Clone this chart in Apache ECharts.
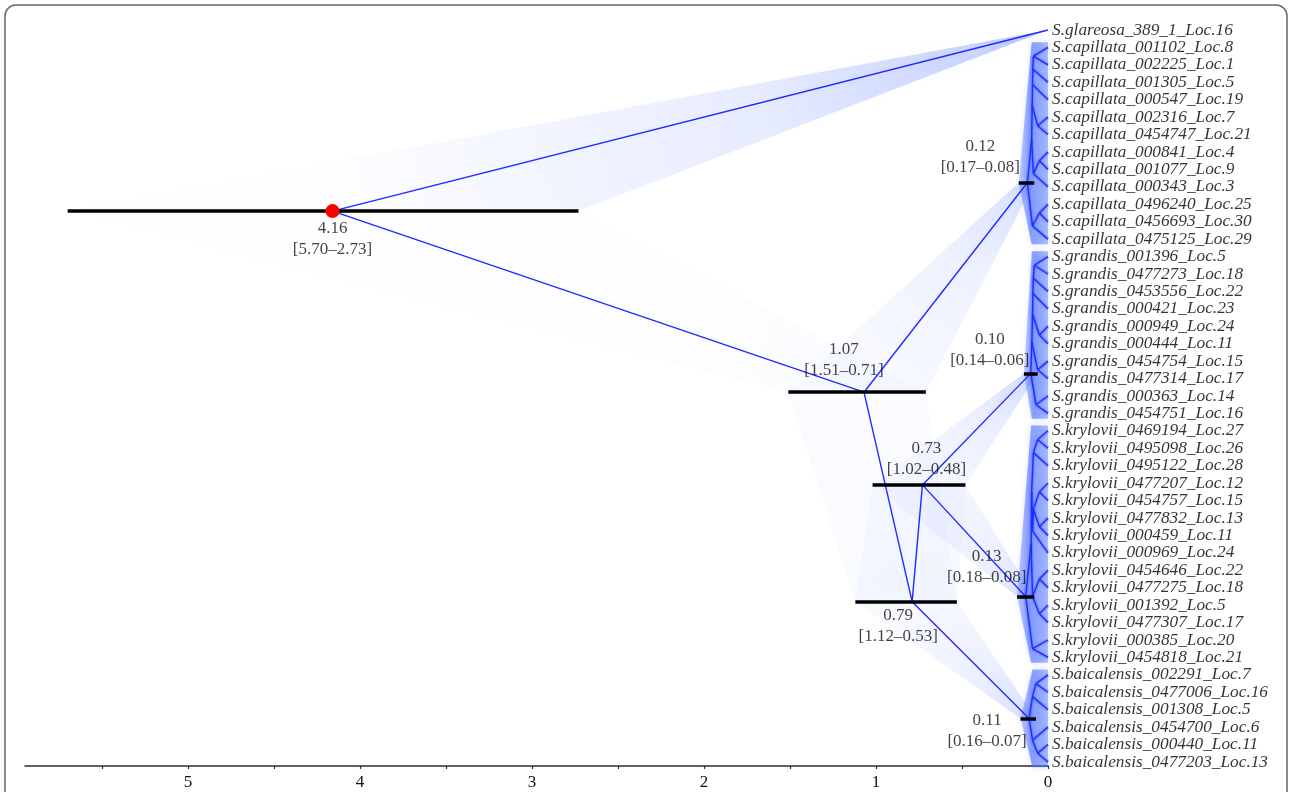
<!DOCTYPE html>
<html>
<head>
<meta charset="utf-8">
<script src="https://cdn.jsdelivr.net/npm/echarts@6/dist/echarts.min.js"></script>
<style>
html,body{margin:0;padding:0;background:#ffffff;}
#chart{width:1290px;height:792px;}
</style>
</head>
<body>
<div id="chart"></div>
<script>
// Tip labels, top to bottom
const tipNames = [
  'S.glareosa_389_1_Loc.16',
  'S.capillata_001102_Loc.8', 'S.capillata_002225_Loc.1', 'S.capillata_001305_Loc.5',
  'S.capillata_000547_Loc.19', 'S.capillata_002316_Loc.7', 'S.capillata_0454747_Loc.21',
  'S.capillata_000841_Loc.4', 'S.capillata_001077_Loc.9', 'S.capillata_000343_Loc.3',
  'S.capillata_0496240_Loc.25', 'S.capillata_0456693_Loc.30', 'S.capillata_0475125_Loc.29',
  'S.grandis_001396_Loc.5', 'S.grandis_0477273_Loc.18', 'S.grandis_0453556_Loc.22',
  'S.grandis_000421_Loc.23', 'S.grandis_000949_Loc.24', 'S.grandis_000444_Loc.11',
  'S.grandis_0454754_Loc.15', 'S.grandis_0477314_Loc.17', 'S.grandis_000363_Loc.14',
  'S.grandis_0454751_Loc.16',
  'S.krylovii_0469194_Loc.27', 'S.krylovii_0495098_Loc.26', 'S.krylovii_0495122_Loc.28',
  'S.krylovii_0477207_Loc.12', 'S.krylovii_0454757_Loc.15', 'S.krylovii_0477832_Loc.13',
  'S.krylovii_000459_Loc.11', 'S.krylovii_000969_Loc.24', 'S.krylovii_0454646_Loc.22',
  'S.krylovii_0477275_Loc.18', 'S.krylovii_001392_Loc.5', 'S.krylovii_0477307_Loc.17',
  'S.krylovii_000385_Loc.20', 'S.krylovii_0454818_Loc.21',
  'S.baicalensis_002291_Loc.7', 'S.baicalensis_0477006_Loc.16', 'S.baicalensis_001308_Loc.5',
  'S.baicalensis_0454700_Loc.6', 'S.baicalensis_000440_Loc.11', 'S.baicalensis_0477203_Loc.13'
];

// Clade subtrees: [age (Ma), left, right]; numbers at the leaves are tip indices
const capillata = [0.12,
  [0.095, [0.092, [0.09, [0.088, [0.085, 1, 2], 3], 4], [0.06, 5, 6]], [0.085, [0.05, 7, 8], 9]],
  [0.09, [0.05, 10, 11], 12]];
const grandis = [0.10,
  [0.094, [0.09, [0.088, [0.085, [0.08, 13, 14], 15], 16], [0.05, 17, 18]], [0.06, 19, 20]],
  [0.07, 21, 22]];
const krylovii = [0.13,
  [0.098, [0.095, [0.085, [0.06, 23, 24], 25], [0.09, [0.085, [0.05, 26, 27], [0.05, 28, 29]], 30]],
    [0.09, [0.05, 31, 32], [0.05, 33, 34]]],
  [0.09, 35, 36]];
const baicalensis = [0.11,
  [0.09, [0.07, 37, 38], 39],
  [0.09, 40, [0.06, 41, 42]]];

// Backbone of the species tree
const speciesTree = [4.16, 0, [1.07, capillata, [0.79, [0.73, grandis, krylovii], baicalensis]]];

// Dated nodes: mean age and 95% HPD interval
const nodeAge   = [4.16, 1.07, 0.79, 0.73, 0.12, 0.10, 0.13, 0.11];
const hpdUpper  = [5.70, 1.51, 1.12, 1.02, 0.17, 0.14, 0.18, 0.16];
const hpdLower  = [2.73, 0.71, 0.53, 0.48, 0.08, 0.06, 0.08, 0.07];

// Time axis (Ma)
const axisTickValues  = [0, 0.5, 1, 1.5, 2, 2.5, 3, 3.5, 4, 4.5, 5, 5.5];
const axisLabelValues = [0, 1, 2, 3, 4, 5];

// Label placement for the dated nodes, [dx, dy] in pixels, same order as nodeAge
const nodeLabelOffset = [[0, 28], [-20, -32], [-14, 24], [4, -26], [-47, -26], [-41, -23], [-39, -29], [-42, 13]];

// ---- layout: y of an internal node is the mean of its two children ----
const backboneEdges = [];
const cladeEdges = [];
const datedNodes = [];
const clades = [];
const cladeRoots = [capillata, grandis, krylovii, baicalensis];

function build(t, inClade) {
  if (typeof t === 'number') return { age: 0, y: t, lo: 0, hi: 0, tips: [t] };
  const k = nodeAge.indexOf(t[0]);
  const dated = k >= 0 && !inClade;
  const isCladeRoot = cladeRoots.includes(t);
  const childInClade = inClade || isCladeRoot;
  const a = build(t[1], childInClade);
  const b = build(t[2], childInClade);
  const n = {
    age: t[0], y: (a.y + b.y) / 2,
    lo: dated ? hpdLower[k] : t[0], hi: dated ? hpdUpper[k] : t[0],
    tips: a.tips.concat(b.tips), k: k, kids: [a, b]
  };
  if (dated) datedNodes.push(n);
  if (isCladeRoot) clades.push(n);
  [a, b].forEach(c => (childInClade ? cladeEdges : backboneEdges).push([n, c]));
  return n;
}
const root = build(speciesTree, false);

// Haze polygons spanning the HPD range of both ends of every backbone edge
const BLUE = [70, 105, 255];
function rgba(a) { return 'rgba(' + BLUE[0] + ',' + BLUE[1] + ',' + BLUE[2] + ',' + a.toFixed(3) + ')'; }
const hazeShapes = backboneEdges.map(([p, c]) => ({
  pts: [[p.hi, p.y], [p.lo, p.y], [c.lo, c.y], [c.hi, c.y]],
  from: [p.age, p.y], to: [c.age, c.y],
  spanFrom: p.hi - p.lo, spanTo: c.hi - c.lo
}));
// Dense blue column of each clade
const cladeShapes = clades.map(n => {
  const first = Math.min(...n.tips), last = Math.max(...n.tips);
  const spine = Math.max(n.kids[0].age, n.kids[1].age);
  return {
    pts: [[n.hi, n.y], [spine, first - 0.3], [0, first - 0.3], [0, last + 0.3], [spine, last + 0.3]],
    from: [n.hi, n.y], to: [0, n.y]
  };
});

const chart = echarts.init(document.getElementById('chart'), null, { renderer: 'canvas' });

// Fewer pixels across an HPD band means a denser cloud of trees
function densityAlpha(spanPx) {
  return Math.min(0.4, 3.6 / Math.max(spanPx, 9));
}

const option = {
  animation: false,
  backgroundColor: '#ffffff',
  grid: { left: 25, right: 242, top: 23, bottom: 26 },
  xAxis: {
    type: 'value', inverse: true, min: 0, max: 5.948, position: 'bottom',
    axisLine: { show: true, onZero: false, lineStyle: { color: '#2b2b2b', width: 1.6 } },
    axisTick: { show: true, length: 3, lineStyle: { color: '#2b2b2b', width: 1.2 }, customValues: axisTickValues },
    axisLabel: {
      customValues: axisLabelValues, margin: 8,
      fontFamily: 'Liberation Serif', fontSize: 17, color: '#111111',
      formatter: v => String(v)
    },
    splitLine: { show: false }
  },
  yAxis: { type: 'value', inverse: true, min: -0.4, max: 42.23, show: false },
  graphic: [{
    type: 'rect', z: 100, silent: true,
    shape: { x: 5, y: 5, width: 1282, height: 840, r: 11 },
    style: { fill: 'none', stroke: '#666666', lineWidth: 1.5 }
  }],
  series: [
    {
      type: 'custom', name: 'haze', z: 1, silent: true,
      data: hazeShapes.map((s, i) => [i]),
      renderItem: (params, api) => {
        const s = hazeShapes[params.dataIndex];
        const pts = s.pts.map(p => api.coord(p));
        const f = api.coord(s.from), t = api.coord(s.to);
        const w0 = Math.abs(api.coord([s.spanFrom, 0])[0] - api.coord([0, 0])[0]);
        const w1 = Math.abs(api.coord([s.spanTo, 0])[0] - api.coord([0, 0])[0]);
        const a0 = densityAlpha(w0), a1 = densityAlpha(w1);
        return {
          type: 'polygon', shape: { points: pts },
          style: {
            fill: new echarts.graphic.LinearGradient(f[0], f[1], t[0], t[1], [
              { offset: 0, color: rgba(a0) },
              { offset: 0.6, color: rgba(a0 + (a1 - a0) * 0.3) },
              { offset: 0.9, color: rgba(a0 + (a1 - a0) * 0.7) },
              { offset: 1, color: rgba(a1) }
            ], true),
            shadowBlur: 18, shadowColor: rgba(0.06)
          }
        };
      }
    },
    {
      type: 'custom', name: 'cladeCloud', z: 2, silent: true,
      data: cladeShapes.map((s, i) => [i]),
      renderItem: (params, api) => {
        const s = cladeShapes[params.dataIndex];
        const pts = s.pts.map(p => api.coord(p));
        const f = api.coord(s.from), t = api.coord(s.to);
        return {
          type: 'polygon', shape: { points: pts },
          style: {
            fill: new echarts.graphic.LinearGradient(f[0], f[1], t[0], t[1], [
              { offset: 0, color: rgba(0.3) },
              { offset: 0.4, color: rgba(0.6) },
              { offset: 1, color: rgba(0.42) }
            ], true),
            shadowBlur: 6, shadowColor: rgba(0.35)
          }
        };
      }
    },
    {
      type: 'lines', name: 'cladeHalo', coordinateSystem: 'cartesian2d', z: 3, silent: true,
      data: cladeEdges.map(([p, c]) => ({ coords: [[p.age, p.y], [c.age, c.y]] })),
      lineStyle: { color: '#3b62ff', width: 4, opacity: 0.3 }
    },
    {
      type: 'lines', name: 'consensus', coordinateSystem: 'cartesian2d', z: 4, silent: true,
      data: backboneEdges.concat(cladeEdges).map(([p, c]) => ({ coords: [[p.age, p.y], [c.age, c.y]] })),
      lineStyle: { color: '#1f2bff', width: 1.4, opacity: 1 }
    },
    {
      type: 'lines', name: 'hpd', coordinateSystem: 'cartesian2d', z: 5, silent: true,
      data: datedNodes.map(n => ({ coords: [[n.hi, n.y], [n.lo, n.y]] })),
      lineStyle: { color: '#000000', width: 3.6, opacity: 1, cap: 'butt' }
    },
    {
      type: 'scatter', name: 'root', z: 6, silent: true,
      data: [[root.age, root.y]],
      symbol: 'circle', symbolSize: 14,
      itemStyle: { color: '#ff0000', opacity: 1 }
    },
    {
      type: 'scatter', name: 'nodeLabels', z: 7, silent: true,
      symbolSize: 0,
      data: datedNodes.map(n => ({
        value: [n.age, n.y],
        name: n.age.toFixed(2) + '\n[' + hpdUpper[n.k].toFixed(2) + '\u2013' + hpdLower[n.k].toFixed(2) + ']',
        label: { offset: nodeLabelOffset[n.k] }
      })),
      label: {
        show: true, position: 'inside', formatter: '{b}',
        fontFamily: 'Liberation Serif', fontSize: 17, lineHeight: 21,
        color: '#111111', align: 'center', verticalAlign: 'middle'
      }
    },
    {
      type: 'scatter', name: 'tips', z: 7, silent: true,
      symbolSize: 0,
      data: tipNames.map((name, i) => ({ value: [0, i], name: name })),
      label: {
        show: true, position: 'right', distance: 4, formatter: '{b}',
        fontFamily: 'Liberation Serif', fontStyle: 'italic', fontSize: 17.3,
        color: '#000000'
      }
    }
  ]
};
chart.setOption(option);
</script>
</body>
</html>
